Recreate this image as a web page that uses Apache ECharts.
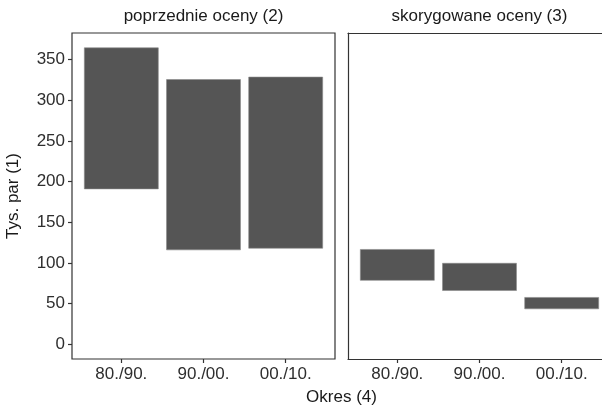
<!DOCTYPE html>
<html>
<head>
<meta charset="utf-8">
<script src="https://cdn.jsdelivr.net/npm/echarts@6/dist/echarts.min.js"></script>
<style>
  html, body { margin: 0; padding: 0; background: #fff; }
  #chart { width: 602px; height: 411px; }
</style>
</head>
<body>
<div id="chart"></div>
<script>
// Periods on the horizontal axis
const categories = ['80./90.', '90./00.', '00./10.'];
// Facet titles
const panelTitles = ['poprzednie oceny (2)', 'skorygowane oceny (3)'];
// Range of estimates (thousand pairs): lower and upper bound per period
const prevLow = [191, 116, 118];
const prevHigh = [364.5, 325.5, 328.5];
const corrLow = [78.5, 66, 43.5];
const corrHigh = [116.5, 99.5, 57.5];
// Y tick labels
const yTicks = [0, 50, 100, 150, 200, 250, 300, 350];
const yTitle = 'Tys. par (1)';
const xTitle = 'Okres (4)';

const FONT = 'Liberation Sans, Arial, sans-serif';
const BAR = '#555555';
const TICK_TEXT = '#2e2e2e';
const FRAME = { color: '#333', width: 1.2 };

// Shared y range: data span from 0 to the top value, padded 5% each side
const yTop = Math.max(...prevHigh, ...corrHigh);
const pad = yTop * 0.05;
const yMin = -pad, yMax = yTop + pad;

function rangeData(lows, highs) {
  return lows.map((lo, i) => [i + 1, lo, highs[i]]);
}

function renderRange(params, api) {
  const x = api.value(0), lo = api.value(1), hi = api.value(2);
  const a = api.coord([x - 0.45, hi]);
  const b = api.coord([x + 0.45, lo]);
  return {
    type: 'rect',
    shape: { x: a[0], y: a[1], width: b[0] - a[0], height: b[1] - a[1] },
    style: { fill: BAR, stroke: '#8a8a8a', lineWidth: 0.6 }
  };
}

const xCat = [1, 2, 3];
function xAxisFor(idx, lineShown) {
  return {
    type: 'value', gridIndex: idx, min: 0.4, max: 3.6, position: 'bottom',
    splitLine: { show: false },
    axisLine: { show: lineShown, onZero: false, lineStyle: FRAME },
    axisTick: { show: true, customValues: xCat, length: 4, lineStyle: FRAME },
    axisLabel: {
      customValues: xCat, margin: 7,
      formatter: v => categories[Math.round(v) - 1],
      fontFamily: FONT, fontSize: 17, color: TICK_TEXT
    }
  };
}

const panelLeft = [72, 348];
const panelWidth = 263;
const panelTop = 33, panelHeight = 326;

const chart = echarts.init(document.getElementById('chart'), null, { renderer: 'canvas' });
chart.setOption({
  animation: false,
  backgroundColor: '#fff',
  grid: panelLeft.map((l, i) => ({
    left: l, top: panelTop, width: panelWidth, height: panelHeight,
    outerBoundsMode: 'none', containLabel: false,
    // the right panel runs past the canvas edge, so its frame comes from its axis lines
    show: i === 0, borderColor: FRAME.color, borderWidth: FRAME.width, backgroundColor: 'transparent'
  })),
  xAxis: [
    xAxisFor(0, false),
    xAxisFor(1, true),
    {
      type: 'value', gridIndex: 1, min: 0.4, max: 3.6, position: 'top',
      splitLine: { show: false }, axisTick: { show: false }, axisLabel: { show: false },
      axisLine: { show: true, onZero: false, lineStyle: FRAME }
    }
  ],
  yAxis: [
    {
      type: 'value', gridIndex: 0, min: yMin, max: yMax,
      splitLine: { show: false }, axisLine: { show: false, onZero: false },
      axisTick: { show: true, customValues: yTicks, length: 4, lineStyle: FRAME },
      axisLabel: { customValues: yTicks, margin: 7, fontFamily: FONT, fontSize: 17, color: TICK_TEXT },
      name: yTitle, nameLocation: 'middle', nameGap: 50, nameRotate: 90,
      nameTextStyle: { fontFamily: FONT, fontSize: 17, color: '#1a1a1a' }
    },
    {
      type: 'value', gridIndex: 1, min: yMin, max: yMax, position: 'left',
      splitLine: { show: false }, axisLine: { show: true, onZero: false, lineStyle: FRAME },
      axisTick: { show: false }, axisLabel: { show: false }
    }
  ],
  series: [
    { type: 'custom', xAxisIndex: 0, yAxisIndex: 0, renderItem: renderRange,
      encode: { x: 0, y: [1, 2] }, data: rangeData(prevLow, prevHigh) },
    { type: 'custom', xAxisIndex: 1, yAxisIndex: 1, renderItem: renderRange,
      encode: { x: 0, y: [1, 2] }, data: rangeData(corrLow, corrHigh) }
  ],
  graphic: [
    ...panelTitles.map((t, i) => ({
      type: 'text', x: panelLeft[i] + panelWidth / 2, y: 16,
      style: { text: t, align: 'center', verticalAlign: 'middle', font: '17px ' + FONT, fill: '#1a1a1a' }
    })),
    {
      type: 'text', x: panelLeft[0] + (panelLeft[1] + panelWidth - panelLeft[0]) / 2, y: 397,
      style: { text: xTitle, align: 'center', verticalAlign: 'middle', font: '17px ' + FONT, fill: '#1a1a1a' }
    }
  ]
});
</script>
</body>
</html>
